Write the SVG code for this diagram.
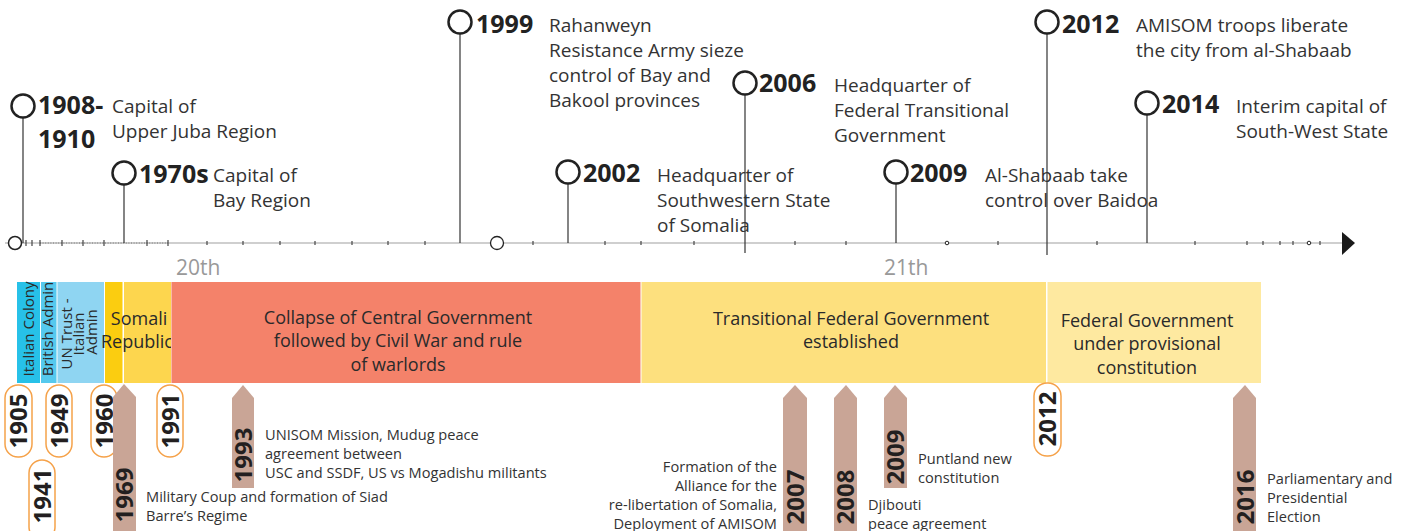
<svg xmlns="http://www.w3.org/2000/svg" width="1413" height="531" viewBox="0 0 1413 531">
  <defs>
    <style>
      text { font-family: "Open Sans", "Liberation Sans", sans-serif; fill: #333; }
      .yr { font-size: 25px; font-weight: bold; fill: #222; }
      .desc { font-size: 19px; fill: #333; }
      .pinline { stroke: #333; stroke-width: 1.2; fill: none; }
      .pin { fill: #fff; stroke: #222; stroke-width: 2.5; }
      .tick { stroke: #444; stroke-width: 1.2; }
      .century { font-size: 21px; fill: #999; }
      .band { font-size: 18px; fill: #2a2a2a; text-anchor: middle; }
      .vband { font-size: 15px; fill: #2a2a2a; text-anchor: middle; }
      .pill { fill: #fff; stroke: #f5a24a; stroke-width: 1.5; }
      .vyr { font-size: 24px; font-weight: bold; fill: #231f20; text-anchor: middle; }
      .arrow { fill: #c9a596; }
      .note { font-size: 14.6px; fill: #333; }
    </style>
  </defs>

  <!-- time axis -->
  <g id="axis">
    <line x1="5" y1="243" x2="1342" y2="243" stroke="#cfcfcf" stroke-width="2"/>
    <line x1="40" y1="243" x2="168" y2="243" stroke="#777" stroke-width="1" stroke-dasharray="1 1.6"/>
    <g class="tick">
      <line x1="20" y1="240" x2="20" y2="246"/>
      <line x1="26" y1="240" x2="26" y2="246"/>
      <line x1="32" y1="240" x2="32" y2="246"/>
      <line x1="40" y1="240" x2="40" y2="246"/>
      <line x1="62" y1="240" x2="62" y2="246"/>
      <line x1="83" y1="240" x2="83" y2="246"/>
      <line x1="104" y1="240" x2="104" y2="246"/>
      <line x1="147" y1="240" x2="147" y2="246"/>
      <line x1="168" y1="240" x2="168" y2="246"/>
      <line x1="207" y1="241" x2="207" y2="245"/>
      <line x1="243" y1="241" x2="243" y2="245"/>
      <line x1="280" y1="241" x2="280" y2="245"/>
      <line x1="315" y1="241" x2="315" y2="245"/>
      <line x1="352" y1="241" x2="352" y2="245"/>
      <line x1="388" y1="241" x2="388" y2="245"/>
      <line x1="425" y1="241" x2="425" y2="245"/>
      <line x1="533" y1="241" x2="533" y2="245"/>
      <line x1="605" y1="241" x2="605" y2="245"/>
      <line x1="641" y1="241" x2="641" y2="245"/>
      <line x1="694" y1="241" x2="694" y2="245"/>
      <line x1="795" y1="241" x2="795" y2="245"/>
      <line x1="846" y1="241" x2="846" y2="245"/>
      <line x1="998" y1="241" x2="998" y2="245"/>
      <line x1="1097" y1="241" x2="1097" y2="245"/>
      <line x1="1195" y1="241" x2="1195" y2="245"/>
      <line x1="1247" y1="241" x2="1247" y2="245"/>
      <line x1="1263" y1="241" x2="1263" y2="245"/>
      <line x1="1280" y1="241" x2="1280" y2="245"/>
      <line x1="1293" y1="241" x2="1293" y2="245"/>
      <line x1="1320" y1="241" x2="1320" y2="245"/>
    </g>
    <circle cx="15" cy="243" r="6.5" fill="#fff" stroke="#222" stroke-width="1.5"/>
    <circle cx="497" cy="243" r="6.5" fill="#fff" stroke="#222" stroke-width="1.3"/>
    <circle cx="947" cy="243" r="1.8" fill="#fff" stroke="#222" stroke-width="1"/>
    <circle cx="1309" cy="243" r="1.8" fill="#fff" stroke="#222" stroke-width="1"/>
    <polygon points="1342,232 1355,243 1342,255" fill="#1a1a1a"/>
    <text class="century" x="176" y="275">20th</text>
    <text class="century" x="884" y="275">21th</text>
  </g>

  <!-- pins above the axis -->
  <g id="pin-1908">
    <line class="pinline" x1="23" y1="118" x2="23" y2="243"/>
    <circle class="pin" cx="23" cy="106" r="11.5"/>
    <text class="yr" x="38" y="114">1908-</text>
    <text class="yr" x="38" y="148">1910</text>
    <text class="desc" x="112" y="113">Capital of</text>
    <text class="desc" x="112" y="138">Upper Juba Region</text>
  </g>
  <g id="pin-1970s">
    <line class="pinline" x1="124" y1="185" x2="124" y2="243"/>
    <circle class="pin" cx="124" cy="173" r="11.5"/>
    <text class="yr" x="139" y="183">1970s</text>
    <text class="desc" x="213" y="182">Capital of</text>
    <text class="desc" x="213" y="207">Bay Region</text>
  </g>
  <g id="pin-1999">
    <line class="pinline" x1="460" y1="34" x2="460" y2="243"/>
    <circle class="pin" cx="460" cy="22" r="11.5"/>
    <text class="yr" x="476" y="33">1999</text>
    <text class="desc" x="549" y="32">Rahanweyn</text>
    <text class="desc" x="549" y="57">Resistance Army sieze</text>
    <text class="desc" x="549" y="82">control of Bay and</text>
    <text class="desc" x="549" y="107">Bakool provinces</text>
  </g>
  <g id="pin-2002">
    <line class="pinline" x1="568" y1="184" x2="568" y2="243"/>
    <circle class="pin" cx="568" cy="172" r="11.5"/>
    <text class="yr" x="583" y="182">2002</text>
    <text class="desc" x="657" y="182">Headquarter of</text>
    <text class="desc" x="657" y="207">Southwestern State</text>
    <text class="desc" x="657" y="232">of Somalia</text>
  </g>
  <g id="pin-2006">
    <line class="pinline" x1="745" y1="95" x2="745" y2="253"/>
    <circle class="pin" cx="745" cy="83" r="11.5"/>
    <text class="yr" x="759" y="92">2006</text>
    <text class="desc" x="834" y="92">Headquarter of</text>
    <text class="desc" x="834" y="117">Federal Transitional</text>
    <text class="desc" x="834" y="142">Government</text>
  </g>
  <g id="pin-2009">
    <line class="pinline" x1="896" y1="184" x2="896" y2="243"/>
    <circle class="pin" cx="896" cy="172" r="11.5"/>
    <text class="yr" x="910" y="182">2009</text>
    <text class="desc" x="985" y="182">Al-Shabaab take</text>
    <text class="desc" x="985" y="207">control over Baidoa</text>
  </g>
  <g id="pin-2012">
    <line class="pinline" x1="1047" y1="34" x2="1047" y2="255"/>
    <circle class="pin" cx="1047" cy="22" r="11.5"/>
    <text class="yr" x="1062" y="33">2012</text>
    <text class="desc" x="1136" y="32">AMISOM troops liberate</text>
    <text class="desc" x="1136" y="57">the city from al-Shabaab</text>
  </g>
  <g id="pin-2014">
    <line class="pinline" x1="1147" y1="115" x2="1147" y2="243"/>
    <circle class="pin" cx="1147" cy="103" r="11.5"/>
    <text class="yr" x="1162" y="113">2014</text>
    <text class="desc" x="1236" y="113">Interim capital of</text>
    <text class="desc" x="1236" y="138">South-West State</text>
  </g>

  <!-- period bands -->
  <g id="band-italian-colony">
    <rect x="17" y="282" width="23" height="101" fill="#27c1e8"/>
    <text class="vband" transform="translate(0,329) rotate(-90)" x="0" y="34">Italian Colony</text>
  </g>
  <g id="band-british-admin">
    <rect x="41" y="282" width="15.5" height="101" fill="#55c9ee"/>
    <text class="vband" transform="translate(0,329) rotate(-90)" x="0" y="53">British Admin</text>
  </g>
  <g id="band-un-trust">
    <rect x="57.5" y="282" width="46.5" height="101" fill="#8fd5f2"/>
    <text class="vband" transform="translate(0,332) rotate(-90)">
      <tspan x="0" y="72">UN Trust -</tspan>
      <tspan x="0" y="84">Italian</tspan>
      <tspan x="0" y="97">Admin</tspan>
    </text>
  </g>
  <g id="band-somali-republic">
    <rect x="105" y="282" width="17.5" height="101" fill="#fbcd10"/>
    <rect x="124" y="282" width="47" height="101" fill="#fdd64e"/>
    <text class="band" x="139" y="325">Somali</text>
    <text class="band" x="137" y="348">Republic</text>
  </g>
  <g id="band-collapse">
    <rect x="171" y="282" width="1" height="101" fill="#f9b9a8"/>
    <rect x="172" y="282" width="468.5" height="101" fill="#f4826a"/>
    <text class="band" x="398" y="324">Collapse of Central Government</text>
    <text class="band" x="398" y="347">followed by Civil War and rule</text>
    <text class="band" x="398" y="371">of warlords</text>
  </g>
  <g id="band-tfg">
    <rect x="641.5" y="282" width="404.5" height="101" fill="#fde07e"/>
    <text class="band" x="851" y="325">Transitional Federal Government</text>
    <text class="band" x="851" y="348">established</text>
  </g>
  <g id="band-federal">
    <rect x="1047.5" y="282" width="213.5" height="101" fill="#fee9a0"/>
    <text class="band" x="1147" y="327">Federal Government</text>
    <text class="band" x="1147" y="350">under provisional</text>
    <text class="band" x="1147" y="374">constitution</text>
  </g>

  <!-- period boundary years -->
  <g id="year-1905">
    <rect class="pill" x="5" y="385" width="27" height="72" rx="13"/>
    <text class="vyr" transform="translate(0,421) rotate(-90)" x="0" y="27">1905</text>
  </g>
  <g id="year-1941">
    <rect class="pill" x="29" y="460" width="26" height="80" rx="13"/>
    <text class="vyr" transform="translate(0,496) rotate(-90)" x="0" y="50.5">1941</text>
  </g>
  <g id="year-1949">
    <rect class="pill" x="46" y="385" width="26" height="72" rx="13"/>
    <text class="vyr" transform="translate(0,421) rotate(-90)" x="0" y="67.5">1949</text>
  </g>
  <g id="year-1960">
    <rect class="pill" x="91" y="385" width="26" height="72" rx="13"/>
    <text class="vyr" transform="translate(0,421) rotate(-90)" x="0" y="112.5">1960</text>
  </g>
  <g id="year-1991">
    <rect class="pill" x="157" y="385" width="26" height="72" rx="13"/>
    <text class="vyr" transform="translate(0,421) rotate(-90)" x="0" y="178.5">1991</text>
  </g>
  <g id="year-2012">
    <rect class="pill" x="1034" y="383" width="27" height="73" rx="13"/>
    <text class="vyr" transform="translate(0,419) rotate(-90)" x="0" y="1056">2012</text>
  </g>

  <!-- event arrows below the bands -->
  <g id="event-1969">
    <polygon class="arrow" points="113,397 124,384 136,397 136,540 113,540"/>
    <text class="vyr" transform="translate(0,495) rotate(-90)" x="0" y="133">1969</text>
    <text class="note" x="146" y="502">Military Coup and formation of Siad</text>
    <text class="note" x="146" y="521">Barre’s Regime</text>
  </g>
  <g id="event-1993">
    <polygon class="arrow" points="232,398 243,385 254,398 254,488 232,488"/>
    <text class="vyr" transform="translate(0,455) rotate(-90)" x="0" y="251.5">1993</text>
    <text class="note" x="265" y="440">UNISOM Mission, Mudug peace</text>
    <text class="note" x="265" y="459">agreement between</text>
    <text class="note" x="265" y="478">USC and SSDF, US vs Mogadishu militants</text>
  </g>
  <g id="event-2007">
    <polygon class="arrow" points="783,398 795,385 807,398 807,540 783,540"/>
    <text class="vyr" transform="translate(0,497) rotate(-90)" x="0" y="803.5">2007</text>
    <text class="note" x="777" y="472" text-anchor="end">Formation of the</text>
    <text class="note" x="777" y="491" text-anchor="end">Alliance for the</text>
    <text class="note" x="777" y="510" text-anchor="end">re-libertation of Somalia,</text>
    <text class="note" x="777" y="529" text-anchor="end">Deployment of AMISOM</text>
  </g>
  <g id="event-2008">
    <polygon class="arrow" points="834,398 846,385 857,398 857,540 834,540"/>
    <text class="vyr" transform="translate(0,497) rotate(-90)" x="0" y="854">2008</text>
    <text class="note" x="868" y="510">Djibouti</text>
    <text class="note" x="868" y="529">peace agreement</text>
  </g>
  <g id="event-2009">
    <polygon class="arrow" points="884,398 895,385 907,398 907,488 884,488"/>
    <text class="vyr" transform="translate(0,457) rotate(-90)" x="0" y="903.5">2009</text>
    <text class="note" x="918" y="464">Puntland new</text>
    <text class="note" x="918" y="483">constitution</text>
  </g>
  <g id="event-2016">
    <polygon class="arrow" points="1233,398 1245,385 1256,398 1256,540 1233,540"/>
    <text class="vyr" transform="translate(0,497) rotate(-90)" x="0" y="1253.5">2016</text>
    <text class="note" x="1267" y="484">Parliamentary and</text>
    <text class="note" x="1267" y="503">Presidential</text>
    <text class="note" x="1267" y="522">Election</text>
  </g>
</svg>
